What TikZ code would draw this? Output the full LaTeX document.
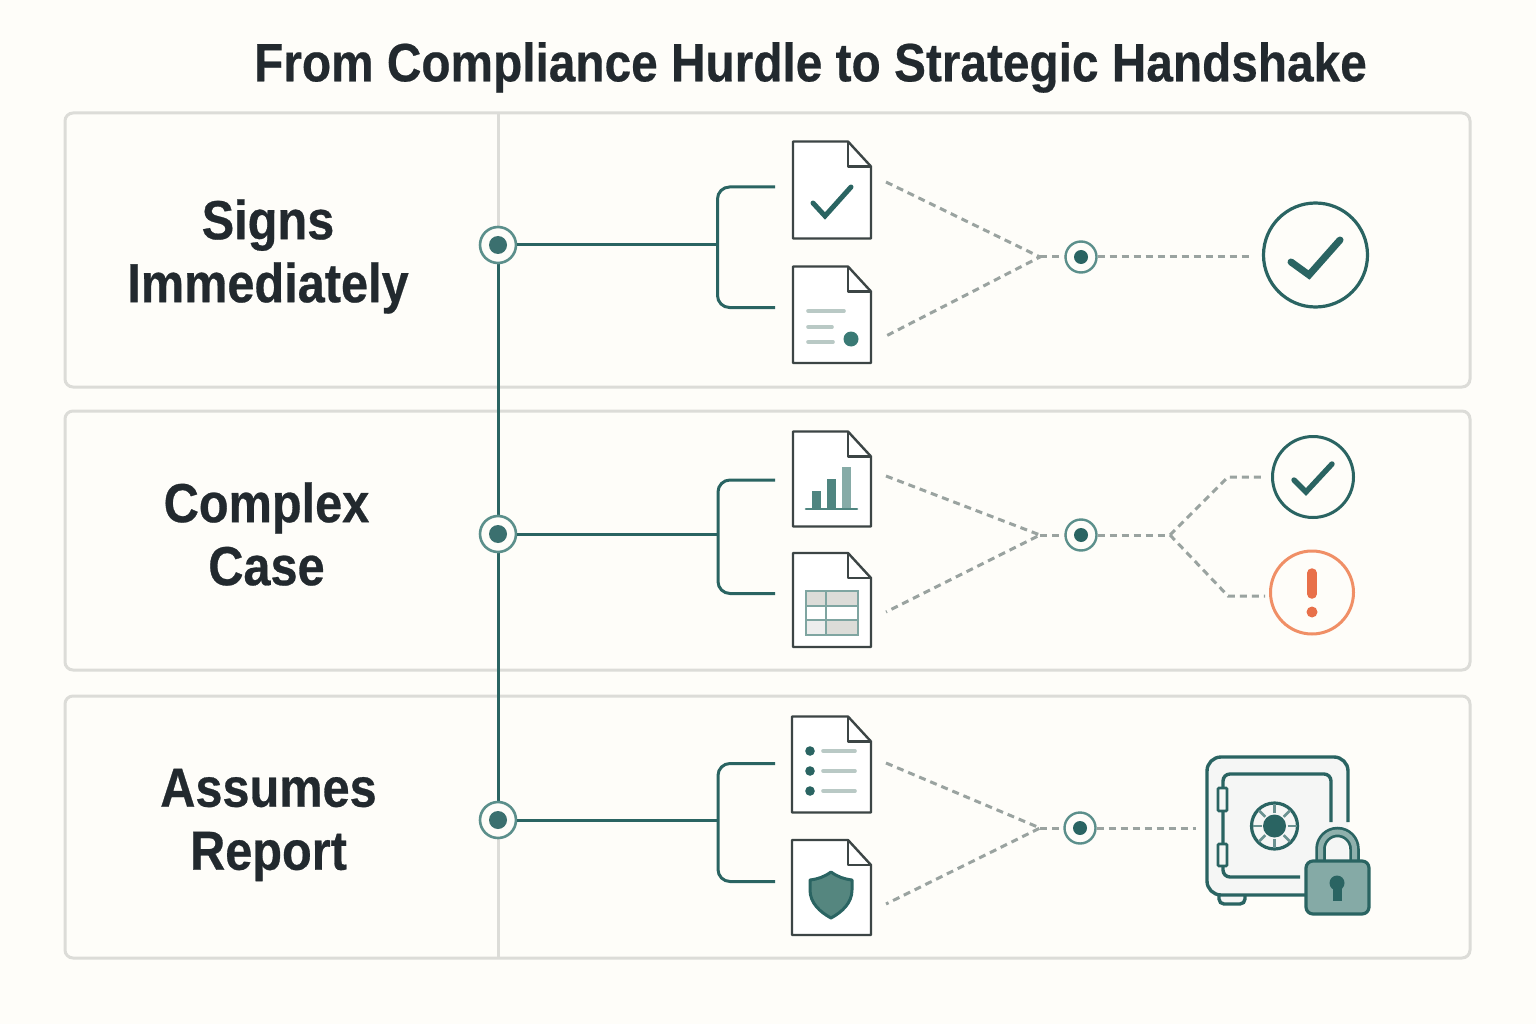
\documentclass[tikz,border=0pt]{standalone}
\usepackage{fontspec}
\setmainfont{Liberation Sans}
\newfontfamily\hd[FakeStretch=0.885,FakeBold=0.4]{Liberation Sans Bold}
\newfontfamily\hl[FakeStretch=0.885,FakeBold=0.5]{Liberation Sans Bold}
\definecolor{bgc}{HTML}{FEFDF9}
\definecolor{panelc}{HTML}{DCDCD8}
\definecolor{teal}{HTML}{2A6462}
\definecolor{ringc}{HTML}{5B8F8B}
\definecolor{dashc}{HTML}{9AA3A0}
\definecolor{inkc}{HTML}{22292E}
\definecolor{docc}{HTML}{3C4545}
\definecolor{paleline}{HTML}{B9C9C5}
\definecolor{dotc}{HTML}{3A7A75}
\definecolor{barc}{HTML}{4F8580}
\definecolor{barl}{HTML}{86ABA7}
\definecolor{tabc}{HTML}{7FA5A1}
\definecolor{shieldc}{HTML}{55867F}
\definecolor{ringo}{HTML}{F08F66}
\definecolor{fillo}{HTML}{E8704A}
\definecolor{safec}{HTML}{F5F6F5}
\definecolor{lockc}{HTML}{85AAA6}
\definecolor{shackc}{HTML}{8FB0AC}
\tikzset{
 panelbox/.style={draw=panelc,line width=3pt,rounded corners=8pt},
 rowlabel/.style={text=inkc,align=center,font=\hl\fontsize{55}{63}\selectfont},
 titlelabel/.style={text=inkc,font=\hd\fontsize{54}{60}\selectfont},
 jnode/.style={circle,draw=ringc,line width=2.6pt,fill=bgc,minimum size=36pt,inner sep=0pt},
 knode/.style={circle,draw=ringc,line width=2.4pt,fill=bgc,minimum size=31pt,inner sep=0pt},
 tealline/.style={draw=teal,line width=3pt},
 bracket/.style={draw=teal,line width=3pt,rounded corners=12pt},
 dashline/.style={draw=dashc,line width=3pt,dash pattern=on 7pt off 5pt},
 docline/.style={draw=docc,line width=2.4pt,line join=round,fill=white},
 pale/.style={draw=paleline,line width=3.6pt,line cap=round},
 checkmark/.style={draw=teal,line cap=round,line join=miter},
 safeline/.style={draw=teal,line width=3.4pt},
}
\newcommand{\docicon}[4]{% x0 y0 x1 y1
 \draw[docline] (#1,#2) -- (#3-23,#2) -- (#3,#2+25) -- (#3,#4) -- (#1,#4) -- cycle;
 \draw[docline,fill=none] (#3-23,#2) -- (#3-23,#2+25) -- (#3,#2+25);
}
\begin{document}
\begin{tikzpicture}[x=1pt,y=-1pt]
\useasboundingbox (0,0) rectangle (1536,1024);
\fill[bgc] (0,0) rectangle (1536,1024);
\node[titlelabel] (title) at (810.5,67.5) {From Compliance Hurdle to Strategic Handshake};
% panels
\draw[panelbox] (65,113) rectangle (1470,387);
\draw[panelbox] (65,411) rectangle (1470,670);
\draw[panelbox] (65,696) rectangle (1470,958);
\coordinate (gt) at (498,113); \coordinate (gb) at (498,958);
\draw[draw=panelc,line width=3pt] (gt) -- (gb);
\node[rowlabel] (l1) at (268,256.5) {Signs\\Immediately};
\node[rowlabel] (l2) at (266.5,534) {Complex\\Case};
\node[rowlabel] (l3) at (268.5,825) {Assumes\\Report};
% junction nodes
\coordinate (j1p) at (498,245); \coordinate (j2p) at (498,534); \coordinate (j3p) at (498,820);
\draw[tealline] (j1p) -- (j3p);
\node[jnode] (j1) at (j1p) {}; \node[jnode] (j2) at (j2p) {}; \node[jnode] (j3) at (j3p) {};
\foreach \n in {j1,j2,j3} \fill[teal!92!white] (\n) circle (9);
% brackets
\coordinate (c1) at (717.5,245); \coordinate (b1t) at (775,187); \coordinate (b1b) at (775,307.5);
\coordinate (c2) at (718,534); \coordinate (b2t) at (775,480); \coordinate (b2b) at (775,593.5);
\coordinate (c3) at (718,820); \coordinate (b3t) at (775,763.5); \coordinate (b3b) at (775,881.5);
\foreach \i in {1,2,3}{
 \draw[tealline] (j\i) -- (c\i);
 \draw[bracket] (b\i t) -| (c\i) |- (b\i b);
}
% documents
\docicon{793}{141.5}{871}{238.5}
\docicon{793}{266.5}{871}{363}
\docicon{793}{431.5}{871}{526.5}
\docicon{793}{553}{871}{647}
\docicon{792}{716.5}{871}{812.5}
\docicon{792}{840}{871}{935}
% doc 1 check
\draw[checkmark,line width=5pt] (813,203) -- (825,216) -- (851,187);
% doc 2
\draw[pale] (808,311) -- (844,311);
\draw[pale] (808,327) -- (832,327);
\draw[pale] (808,342) -- (833,342);
\fill[dotc] (851,339) circle (7.5);
% doc 3 bars
\fill[barc] (812,491) rectangle (821,509);
\fill[barc] (827,479) rectangle (836,509);
\fill[barl] (842,467) rectangle (851,509);
\draw[draw=barc,line width=2.6pt,line cap=round] (806,509) -- (857,509);
% doc 4 table
\fill[panelc] (806,591) rectangle (858,606);
\fill[panelc] (826,620) rectangle (858,635);
\fill[black!7] (806,620) rectangle (826,635);
\draw[draw=tabc,line width=2.6pt] (806,591) rectangle (858,635);
\draw[draw=tabc,line width=2.6pt] (806,606) -- (858,606);
\draw[draw=tabc,line width=2.6pt] (806,620) -- (858,620);
\draw[draw=tabc,line width=2.6pt] (826,591) -- (826,635);
% doc 5
\foreach \y in {751,771,791}{
 \fill[teal] (810,\y) circle (4.8);
 \draw[pale] (823,\y) -- (855,\y);
}
% doc 6 shield
\draw[draw=teal,fill=shieldc,line width=3pt,line join=round]
 (831,872) .. controls (824,877) and (818,879) .. (810,880)
 -- (810,890) .. controls (810,903) and (820,912) .. (831,918)
 .. controls (842,912) and (852,903) .. (852,890)
 -- (852,880) .. controls (844,879) and (838,877) .. (831,872) -- cycle;
% merge points
\coordinate (m1) at (1040,257); \coordinate (d1a) at (886,182); \coordinate (d1b) at (886,336);
\coordinate (m2) at (1040,535); \coordinate (d2a) at (886,476); \coordinate (d2b) at (886,612);
\coordinate (m3) at (1040,828); \coordinate (d3a) at (886,763); \coordinate (d3b) at (886,904);
\node[knode] (k1) at (1081,257) {};
\node[knode] (k2) at (1081,535) {};
\node[knode] (k3) at (1080,828) {};
\foreach \n in {k1,k2,k3} \fill[teal] (\n) circle (7);
\foreach \i in {1,2,3}{
 \draw[dashline] (d\i a) -- (m\i) -- (d\i b);
 \draw[dashline] (m\i) -- (k\i);
}
% outcome row 1
\node[circle,draw=teal,line width=3.2pt,minimum size=104pt,inner sep=0pt] (r1) at (1315.5,255) {};
\coordinate (r1in) at (1253,257);
\draw[dashline] (k1) -- (r1in);
\draw[checkmark,line width=7pt] (1291,262) -- (1309,275) -- (1340,240);
% outcome row 2
\node[circle,draw=teal,line width=3pt,minimum size=81pt,inner sep=0pt] (r2) at (1313,477) {};
\node[circle,draw=ringo,line width=3pt,minimum size=83pt,inner sep=0pt] (r3) at (1312,592.5) {};
\coordinate (f) at (1170,535);
\coordinate (fa) at (1228,477); \coordinate (fb) at (1228,596);
\coordinate (fae) at (1265,477); \coordinate (fbe) at (1265,596);
\draw[dashline] (k2) -- (f);
\draw[dashline] (f) -- (fa) -- (fae);
\draw[dashline] (f) -- (fb) -- (fbe);
\draw[checkmark,line width=5.4pt] (1294,480) -- (1306,492) -- (1332,464);
\draw[draw=fillo,line width=9.5pt,line cap=round] (1312,573) -- (1312,594);
\fill[fillo] (1312,612) circle (5.5);
% safe
\coordinate (s3) at (1196,828);
\draw[dashline] (k3) -- (s3);
\draw[safeline,fill=safec,rounded corners=5pt] (1219,895) -- (1219,904) -- (1245,904) -- (1245,895);
\fill[safec,rounded corners=14pt] (1207,757) rectangle (1348,895);
\draw[safeline,rounded corners=14pt] (1348,822) -- (1348,757) -- (1207,757) -- (1207,895) -- (1310,895);
\draw[safeline,rounded corners=7pt] (1331,822) -- (1331,774) -- (1223,774) -- (1223,877) -- (1300,877);
\draw[safeline,line width=2.6pt,fill=safec,rounded corners=1pt] (1218,788) rectangle (1227,811);
\draw[safeline,line width=2.6pt,fill=safec,rounded corners=1pt] (1218,844) rectangle (1227,866);
\node[circle,draw=teal,line width=3.2pt,minimum size=46pt,inner sep=0pt] (dial) at (1274.5,826) {};
\foreach \a in {0,45,...,315}
 \draw[draw=teal!70!white,line width=2.6pt] (dial) ++(\a:13) -- ++(\a:9);
\fill[teal] (dial) circle (11.5);
% lock
\draw[draw=teal,line width=10.5pt] (1320.5,862) -- (1320.5,849) arc (180:360:17) -- (1354.5,862);
\draw[draw=shackc,line width=5pt] (1320.5,862) -- (1320.5,849) arc (180:360:17) -- (1354.5,862);
\draw[draw=teal,line width=3.2pt,fill=lockc,rounded corners=7pt] (1306,861) rectangle (1369,914);
\fill[teal] (1337,883) circle (7.5);
\fill[teal] (1333,885) rectangle (1342,901);
\end{tikzpicture}
\end{document}
